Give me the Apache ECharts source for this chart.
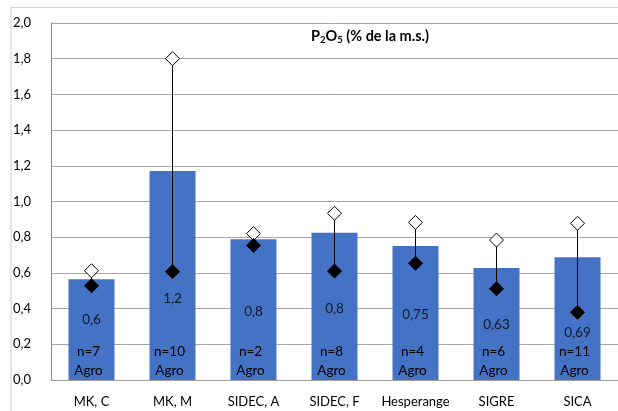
<!DOCTYPE html>
<html>
<head>
<meta charset="utf-8">
<script src="https://cdn.jsdelivr.net/npm/echarts@6/dist/echarts.min.js"></script>
<style>html,body{margin:0;padding:0;background:#fff;}#c{width:618px;height:411px;}</style>
</head>
<body>
<div id="c"></div>
<script>
const categories = ['MK, C', 'MK, M', 'SIDEC, A', 'SIDEC, F', 'Hesperange', 'SIGRE', 'SICA'];
const barValues = [0.564, 1.171, 0.788, 0.825, 0.751, 0.627, 0.687];
const maxValues = [0.612, 1.80, 0.82, 0.934, 0.883, 0.784, 0.878];
const minValues = [0.528, 0.607, 0.754, 0.61, 0.654, 0.511, 0.379];
const valueLabels = ['0,6', '1,2', '0,8', '0,8', '0,75', '0,63', '0,69'];
const valueLabelHeights = [0.336, 0.458, 0.383, 0.402, 0.364, 0.308, 0.265];
const counts = [7, 10, 2, 8, 4, 6, 11];
const yTicks = { min: 0, max: 2, interval: 0.2 };

const FONT = 'Lato';
const chart = echarts.init(document.getElementById('c'), null, { renderer: 'canvas' });

chart.setOption({
  animation: false,
  textStyle: { fontFamily: FONT },
  grid: { left: 51, top: 23, width: 570, height: 357, containLabel: false },
  graphic: [
    { type: 'rect', shape: { x: 11, y: 7.5, width: 700, height: 500 },
      style: { fill: 'none', stroke: '#cfcfcf', lineWidth: 1 }, z: -10 },
    { type: 'text', x: 370, y: 36, z: 100,
      style: {
        text: '{a|P}{s|2}{a|O}{s|5}{a| (% de la m.s.)}',
        textAlign: 'center', textVerticalAlign: 'middle',
        rich: {
          a: { fontFamily: FONT, fontSize: 14.5, fontWeight: 'bold', fill: '#000', lineHeight: 18 },
          s: { fontFamily: FONT, fontSize: 9.5, fontWeight: 'bold', fill: '#000', lineHeight: 12, verticalAlign: 'bottom' }
        }
      }
    }
  ],
  xAxis: {
    type: 'category',
    data: categories,
    axisLine: { show: true, lineStyle: { color: '#a0a0a0', width: 1 } },
    axisTick: { show: false },
    axisLabel: { color: '#000', fontSize: 13, fontFamily: FONT, margin: 15, interval: 0, hideOverlap: false },
    splitLine: { show: false }
  },
  yAxis: {
    type: 'value',
    min: yTicks.min, max: yTicks.max, interval: yTicks.interval,
    axisLine: { show: true, lineStyle: { color: '#8c8c8c', width: 1 } },
    axisTick: { show: false },
    axisLabel: { color: '#000', fontSize: 13, fontFamily: FONT, margin: 20,
      formatter: v => v.toFixed(1).replace('.', ',') },
    splitLine: { show: true, lineStyle: { color: '#a6a6a6', width: 1 } }
  },
  series: [
    {
      type: 'bar',
      data: barValues,
      barWidth: 46,
      itemStyle: { color: '#4472C4' },
      label: {
        show: true, position: 'insideBottom', distance: 0, offset: [-3, 0],
        color: '#000', fontSize: 13.5, fontFamily: FONT, lineHeight: 19,
        formatter: p => 'n=' + counts[p.dataIndex] + '\nAgro'
      },
      z: 1
    },
    {
      type: 'scatter',
      data: valueLabelHeights,
      symbolSize: 0,
      silent: true,
      label: {
        show: true, position: 'inside', color: '#000', fontSize: 13.5, fontFamily: FONT,
        formatter: p => valueLabels[p.dataIndex]
      },
      z: 3
    },
    {
      type: 'custom',
      data: categories.map((c, i) => [i, maxValues[i], minValues[i]]),
      renderItem: (params, api) => {
        const p1 = api.coord([api.value(0), api.value(1)]);
        const p2 = api.coord([api.value(0), api.value(2)]);
        return { type: 'line', shape: { x1: p1[0], y1: p1[1], x2: p2[0], y2: p2[1] },
          style: { stroke: '#000', lineWidth: 1 } };
      },
      z: 4
    },
    {
      type: 'scatter',
      data: maxValues,
      symbol: 'diamond',
      symbolSize: 14,
      itemStyle: { color: '#fff', borderColor: '#000', borderWidth: 1, opacity: 1 },
      z: 5
    },
    {
      type: 'scatter',
      data: minValues,
      symbol: 'diamond',
      symbolSize: 14,
      itemStyle: { color: '#000', borderColor: '#000', borderWidth: 1, opacity: 1 },
      z: 6
    }
  ]
});
</script>
</body>
</html>
